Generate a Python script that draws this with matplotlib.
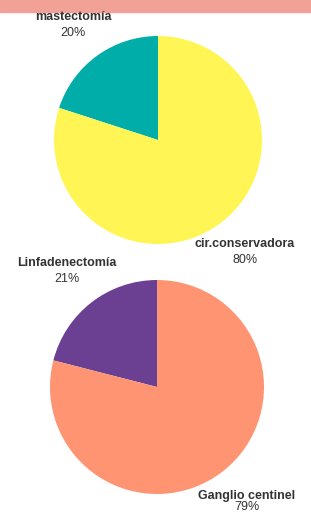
import matplotlib.pyplot as plt
from matplotlib.patches import Rectangle

W, H = 311, 515

cirugia_labels = ["mastectomía", "cir.conservadora"]
cirugia_values = [20, 80]
cirugia_colors = ["#00ADA9", "#FFF655"]

axila_labels = ["Linfadenectomía", "Ganglio centinel"]
axila_values = [21, 79]
axila_colors = ["#6B3F92", "#FF9472"]

plt.rcParams["font.family"] = ["Liberation Sans", "DejaVu Sans"]

fig = plt.figure(figsize=(W / 100, H / 100), dpi=100)


def px_axes(cx, cy, r):
    return fig.add_axes([(cx - r) / W, (H - cy - r) / H, 2 * r / W, 2 * r / H])


def px_text(x, y, s, **kw):
    fig.text(x / W, 1 - y / H, s, ha="center", va="center", color="#333333", **kw)


# top band
fig.patches.append(Rectangle((0, 1 - 12 / H), 1, 12 / H, transform=fig.transFigure,
                             color="#F2A196", zorder=0))


def draw_pie(ax, vals, cols):
    ax.pie(vals, colors=cols, startangle=90, counterclock=True, radius=1,
           wedgeprops=dict(linewidth=0))
    ax.set_xlim(-1, 1)
    ax.set_ylim(-1, 1)
    ax.set_aspect("equal")
    ax.axis("off")


ax1 = px_axes(158, 140, 104)
draw_pie(ax1, cirugia_values, cirugia_colors)

ax2 = px_axes(157, 387, 107)
draw_pie(ax2, axila_values, axila_colors)

# labels
pos = [(73, 17), (245, 244), (67, 263), (247, 496)]
labels = cirugia_labels + axila_labels
values = cirugia_values + axila_values
for (x, y), lab, v in zip(pos, labels, values):
    px_text(x, y, lab, fontsize=9, fontweight="bold")
    yy = min(y + 16, 507)
    px_text(x, yy, f"{v}%", fontsize=9)

fig.savefig("out.png", dpi=100)
